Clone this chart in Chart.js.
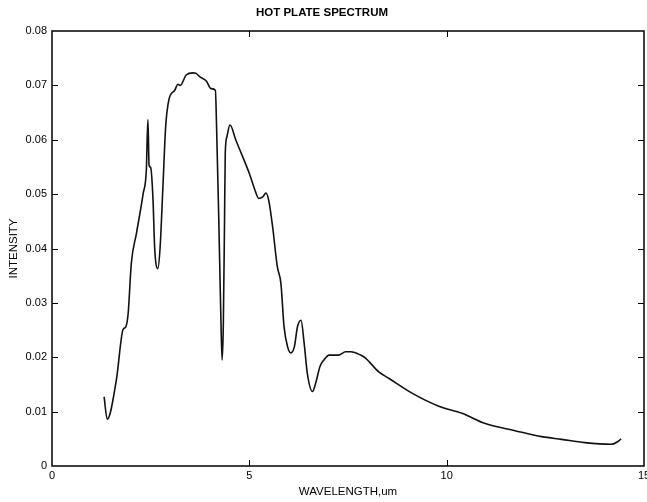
<!DOCTYPE html>
<html>
<head>
<meta charset="utf-8">
<script src="https://cdn.jsdelivr.net/npm/chart.js@4/dist/chart.umd.min.js"></script>
<style>
  body { margin: 0; background: #fff; }
  #wrap { width: 647px; height: 502px; }
</style>
</head>
<body>
<div id="wrap"><canvas id="spectrum"></canvas></div>
<script>
// wavelength (um) and intensity
const wavelength = [
  1.32, 1.40, 1.63, 1.80, 1.87, 1.93, 2.01, 2.14, 2.31, 2.39,
  2.43, 2.46, 2.50, 2.56, 2.60, 2.68, 2.74, 2.81, 2.88, 2.96,
  3.11, 3.19, 3.25, 3.40, 3.57, 3.65, 3.74, 3.91, 4.03, 4.14,
  4.17, 4.23, 4.28, 4.31, 4.34, 4.37, 4.39, 4.43, 4.51, 4.66,
  4.83, 5.00, 5.13, 5.24, 5.34, 5.42, 5.49, 5.59, 5.71, 5.80,
  5.88, 5.97, 6.05, 6.14, 6.22, 6.31, 6.39, 6.47, 6.60, 6.68,
  6.79, 6.89, 7.02, 7.27, 7.44, 7.57, 7.82, 7.95, 8.28, 8.54,
  9.12, 9.80, 10.39, 10.98, 11.73, 12.41, 12.91, 13.50, 14.17, 14.34,
  14.42
];
const intensity = [
  0.0127, 0.0086, 0.0158, 0.0251, 0.0256, 0.0281, 0.0373, 0.0428, 0.0501, 0.0544,
  0.0637, 0.0553, 0.0549, 0.0489, 0.0403, 0.0363, 0.0403, 0.0513, 0.0624, 0.0673,
  0.0691, 0.0702, 0.0700, 0.0719, 0.0723, 0.0722, 0.0716, 0.0708, 0.0694, 0.0691,
  0.0624, 0.0440, 0.0268, 0.0195, 0.0256, 0.0440, 0.0575, 0.0605, 0.0627, 0.0599,
  0.0569, 0.0538, 0.0510, 0.0492, 0.0495, 0.0502, 0.0489, 0.0440, 0.0366, 0.0336,
  0.0256, 0.0219, 0.0208, 0.0219, 0.0256, 0.0268, 0.0225, 0.0170, 0.0137, 0.0152,
  0.0183, 0.0195, 0.0204, 0.0204, 0.0210, 0.0210, 0.0204, 0.0198, 0.0173, 0.0161,
  0.0134, 0.0110, 0.0097, 0.0078, 0.0065, 0.0054, 0.0049, 0.0043, 0.0040, 0.0045,
  0.0050
];
const xTicks = [0, 5, 10, 15];
const yTicks = [0, 0.01, 0.02, 0.03, 0.04, 0.05, 0.06, 0.07, 0.08];

const ink = "#000";
const family = "'Liberation Sans', Arial, sans-serif";
const tickFont = { family, size: 11 };
const labelFont = { family, size: 11.5 };

// box around the plot with inward tick marks on all four sides
const frame = {
  id: "frame",
  afterDatasetsDraw(chart) {
    const { ctx, chartArea: a, scales: { x, y } } = chart;
    ctx.save();
    ctx.strokeStyle = ink;
    ctx.lineWidth = 1.5;
    ctx.strokeRect(a.left, a.top, a.right - a.left, a.bottom - a.top);
    ctx.lineWidth = 1;
    ctx.beginPath();
    x.ticks.forEach(t => {
      if (t.value <= x.min || t.value >= x.max) return;
      const px = Math.round(x.getPixelForValue(t.value)) + 0.5;
      ctx.moveTo(px, a.bottom); ctx.lineTo(px, a.bottom - 6);
      ctx.moveTo(px, a.top); ctx.lineTo(px, a.top + 6);
    });
    y.ticks.forEach(t => {
      if (t.value <= y.min || t.value >= y.max) return;
      const py = Math.round(y.getPixelForValue(t.value)) + 0.5;
      ctx.moveTo(a.left, py); ctx.lineTo(a.left + 6, py);
      ctx.moveTo(a.right, py); ctx.lineTo(a.right - 6, py);
    });
    ctx.stroke();
    ctx.restore();
  }
};

new Chart(document.getElementById("spectrum"), {
  type: "line",
  data: {
    datasets: [{
      data: wavelength.map((w, i) => ({ x: w, y: intensity[i] })),
      borderColor: "#111",
      borderWidth: 1.6,
      pointRadius: 0,
      cubicInterpolationMode: "monotone",
      fill: false
    }]
  },
  options: {
    responsive: true,
    maintainAspectRatio: false,
    animation: false,
    layout: { padding: { left: 0, right: 3, top: 0, bottom: 0 } },
    plugins: {
      legend: { display: false },
      tooltip: { enabled: false },
      title: {
        display: true,
        text: "HOT PLATE SPECTRUM",
        color: ink,
        font: { family, size: 11.5, weight: "bold" },
        padding: { top: 6, bottom: 11.2 }
      }
    },
    scales: {
      x: {
        type: "linear",
        min: 0,
        max: 15,
        grid: { display: false, drawTicks: false },
        border: { display: false },
        afterBuildTicks: s => { s.ticks = xTicks.map(v => ({ value: v })); },
        ticks: { color: ink, font: tickFont, padding: 3, maxRotation: 0, callback: v => String(v) },
        title: { display: true, text: "WAVELENGTH,um", color: ink, font: labelFont, padding: { top: 0, bottom: 3 } },
        afterFit: s => { s.height = 36; s.paddingLeft = 0; s.paddingRight = 0; }
      },
      y: {
        min: 0,
        max: 0.08,
        grid: { display: false, drawTicks: false },
        border: { display: false },
        afterBuildTicks: s => { s.ticks = yTicks.map(v => ({ value: v })); },
        ticks: { color: ink, font: tickFont, padding: 5, callback: v => v === 0 ? "0" : v.toFixed(2) },
        title: { display: true, text: "INTENSITY", color: ink, font: labelFont, padding: { top: 7, bottom: 0 } },
        afterFit: s => { s.width = 52; }
      }
    }
  },
  plugins: [frame]
});
</script>
</body>
</html>
